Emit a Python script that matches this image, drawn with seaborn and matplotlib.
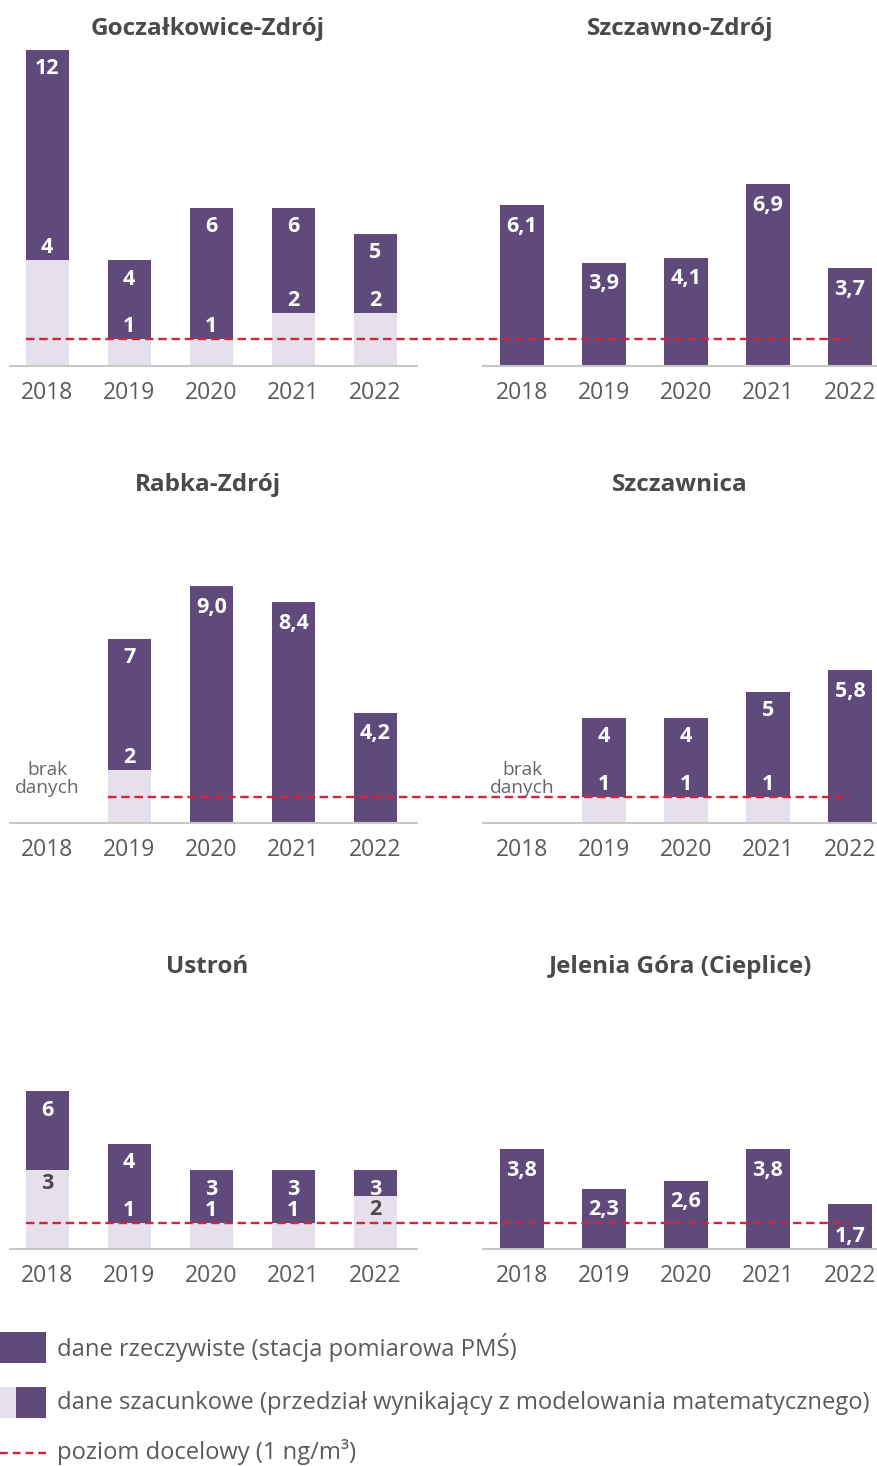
import matplotlib
matplotlib.use("Agg")
import matplotlib.pyplot as plt
import numpy as np
import pandas as pd
import seaborn as sns
from matplotlib.patches import Rectangle

# ---------------- data ----------------
YEARS = ["2018", "2019", "2020", "2021", "2022"]

GOCZ_TITLE = "Goczałkowice-Zdrój"
GOCZ_MEAS = [None, None, None, None, None]
GOCZ_LOW = [4, 1, 1, 2, 2]
GOCZ_HIGH = [12, 4, 6, 6, 5]

SZCZAWNO_TITLE = "Szczawno-Zdrój"
SZCZAWNO_MEAS = [6.1, 3.9, 4.1, 6.9, 3.7]
SZCZAWNO_LOW = [None, None, None, None, None]
SZCZAWNO_HIGH = [None, None, None, None, None]

RABKA_TITLE = "Rabka-Zdrój"
RABKA_MEAS = [None, None, 9.0, 8.4, 4.2]
RABKA_LOW = [None, 2, None, None, None]
RABKA_HIGH = [None, 7, None, None, None]

SZCZAWNICA_TITLE = "Szczawnica"
SZCZAWNICA_MEAS = [None, None, None, None, 5.8]
SZCZAWNICA_LOW = [None, 1, 1, 1, None]
SZCZAWNICA_HIGH = [None, 4, 4, 5, None]

USTRON_TITLE = "Ustroń"
USTRON_MEAS = [None, None, None, None, None]
USTRON_LOW = [3, 1, 1, 1, 2]
USTRON_HIGH = [6, 4, 3, 3, 3]

JELENIA_TITLE = "Jelenia Góra (Cieplice)"
JELENIA_MEAS = [3.8, 2.3, 2.6, 3.8, 1.7]
JELENIA_LOW = [None, None, None, None, None]
JELENIA_HIGH = [None, None, None, None, None]

TARGET_LEVEL = 1.0
NO_DATA_TEXT = "brak\ndanych"
LEGEND_LABELS = [
    "dane rzeczywiste (stacja pomiarowa PMŚ)",
    "dane szacunkowe (przedział wynikający z modelowania matematycznego)",
    "poziom docelowy (1 ng/m³)",
]

# style: range bars whose lower-bound label sits in the light part
LOWER_LABEL_IN_LIGHT = {(USTRON_TITLE, "2018"), (USTRON_TITLE, "2022")}

PANELS = [
    (GOCZ_TITLE, GOCZ_MEAS, GOCZ_LOW, GOCZ_HIGH),
    (SZCZAWNO_TITLE, SZCZAWNO_MEAS, SZCZAWNO_LOW, SZCZAWNO_HIGH),
    (RABKA_TITLE, RABKA_MEAS, RABKA_LOW, RABKA_HIGH),
    (SZCZAWNICA_TITLE, SZCZAWNICA_MEAS, SZCZAWNICA_LOW, SZCZAWNICA_HIGH),
    (USTRON_TITLE, USTRON_MEAS, USTRON_LOW, USTRON_HIGH),
    (JELENIA_TITLE, JELENIA_MEAS, JELENIA_LOW, JELENIA_HIGH),
]

# ---------------- style ----------------
DARK = "#604a7b"
LIGHT = "#e6e0ec"
RED = "#d42438"
AXIS_GRAY = "#c8c8c8"
TEXT_GRAY = "#5a5a5a"
TITLE_GRAY = "#4a4a4a"

sns.set_style("white")
plt.rcParams["font.family"] = ["Open Sans", "DejaVu Sans"]

W, H = 877, 1466
fig = plt.figure(figsize=(W / 100, H / 100), dpi=100)

PX_PER_UNIT = 26.3
PX_PER_CAT = 82.0
BAR_W = 0.53
YMAX = 13.3
COL_AX = [(10, 417, 47.3), (483, 877, 522.0)]   # left px, right px, first bar center px
ROW_BASE = [365.5, 823.0, 1249.0]
TITLE_X = [207.5, 680.0]
TITLE_BASE = [35.0, 491.0, 973.0]
LW_PT = 1.7
DASHES = (3.6, 2.0)


def px_ax(left, right, base):
    top = base - YMAX * PX_PER_UNIT
    return fig.add_axes([left / W, (H - base) / H, (right - left) / W, (base - top) / H])


def fmt(v):
    return f"{v:.1f}".replace(".", ",")


axes = []
for k, (title, meas, low, high) in enumerate(PANELS):
    row, col = divmod(k, 2)
    left, right, c0 = COL_AX[col]
    base = ROW_BASE[row]
    ax = px_ax(left, right, base)
    ax.set_facecolor("none")
    top_vals = [m if m is not None else h for m, h in zip(meas, high)]
    low_vals = [l if l is not None else np.nan for l in low]
    df = pd.DataFrame({
        "year": YEARS,
        "top": [np.nan if v is None else v for v in top_vals],
        "low": low_vals,
    })
    sns.barplot(data=df, x="year", y="top", order=YEARS, color=DARK, saturation=1,
                width=BAR_W, linewidth=0, errorbar=None, ax=ax)
    sns.barplot(data=df, x="year", y="low", order=YEARS, color=LIGHT, saturation=1,
                width=BAR_W, linewidth=0, errorbar=None, ax=ax)
    ax.set_xlim((left - c0) / PX_PER_CAT, (right - c0) / PX_PER_CAT)
    ax.set_ylim(0, YMAX)
    ax.set_xlabel("")
    ax.set_ylabel("")
    ax.set_yticks([])
    for s in ["top", "left", "right"]:
        ax.spines[s].set_visible(False)
    ax.spines["bottom"].set_color(AXIS_GRAY)
    ax.spines["bottom"].set_linewidth(1.5)
    ax.tick_params(axis="x", length=0, pad=11, labelsize=16.5, labelcolor=TEXT_GRAY)

    # value labels
    for i, yr in enumerate(YEARS):
        m, l, h = meas[i], low[i], high[i]
        lab = dict(ha="center", va="center", fontsize=15.5, fontweight="bold")
        if m is not None:
            y = m - 0.8
            if abs(y - TARGET_LEVEL) < 0.45:
                y = m * 0.29
            ax.text(i, y, fmt(m), color="white", **lab)
        elif h is not None:
            ax.text(i, h - 0.72, f"{h:g}", color="white", **lab)
            if (title, yr) in LOWER_LABEL_IN_LIGHT:
                ax.text(i, l - 0.5, f"{l:g}", color=TITLE_GRAY, **lab)
            else:
                ax.text(i, l + 0.48, f"{l:g}", color="white", **lab)
        else:
            ax.text(i, 1.67, NO_DATA_TEXT, ha="center", va="center", fontsize=13.8,
                    color="#666666", linespacing=1.0)

    fig.text(TITLE_X[col] / W, 1 - TITLE_BASE[row] / H, title, ha="center",
             va="baseline", fontsize=17.5, fontweight="bold", color=TITLE_GRAY)
    axes.append((ax, meas, low, high))

# target-level dashed line spanning each row, drawn on the right axes (on top)
for row in range(3):
    axl, measl, lowl, highl = axes[2 * row]
    axr = axes[2 * row + 1][0]
    first = next(i for i in range(len(YEARS))
                 if measl[i] is not None or highl[i] is not None)
    disp = axl.transData.transform((first - BAR_W / 2, TARGET_LEVEL))
    x_start = axr.transData.inverted().transform(disp)[0]
    axr.plot([x_start, len(YEARS) - 1], [TARGET_LEVEL, TARGET_LEVEL], color=RED,
             lw=LW_PT, dashes=DASHES, clip_on=False, zorder=5)
    axr.set_xlim((COL_AX[1][0] - COL_AX[1][2]) / PX_PER_CAT,
                 (COL_AX[1][1] - COL_AX[1][2]) / PX_PER_CAT)

# ---------------- legend ----------------
lax = fig.add_axes([0, 0, 1, (H - 1315) / H])
lax.set_xlim(0, W)
lax.set_ylim(H, 1315)
lax.axis("off")
lax.add_patch(Rectangle((0, 1332), 46, 31, color=DARK, lw=0))
lax.add_patch(Rectangle((0, 1387), 16, 31, color=LIGHT, lw=0))
lax.add_patch(Rectangle((16, 1387), 30, 31, color=DARK, lw=0))
lax.plot([0, 47], [1453, 1453], color=RED, lw=LW_PT, dashes=(3.3, 2.1))
for y, txt in zip([1348, 1403, 1452], LEGEND_LABELS):
    lax.text(57, y, txt, ha="left", va="center", fontsize=17.1, color=TEXT_GRAY)

fig.savefig("out.png", dpi=100)
